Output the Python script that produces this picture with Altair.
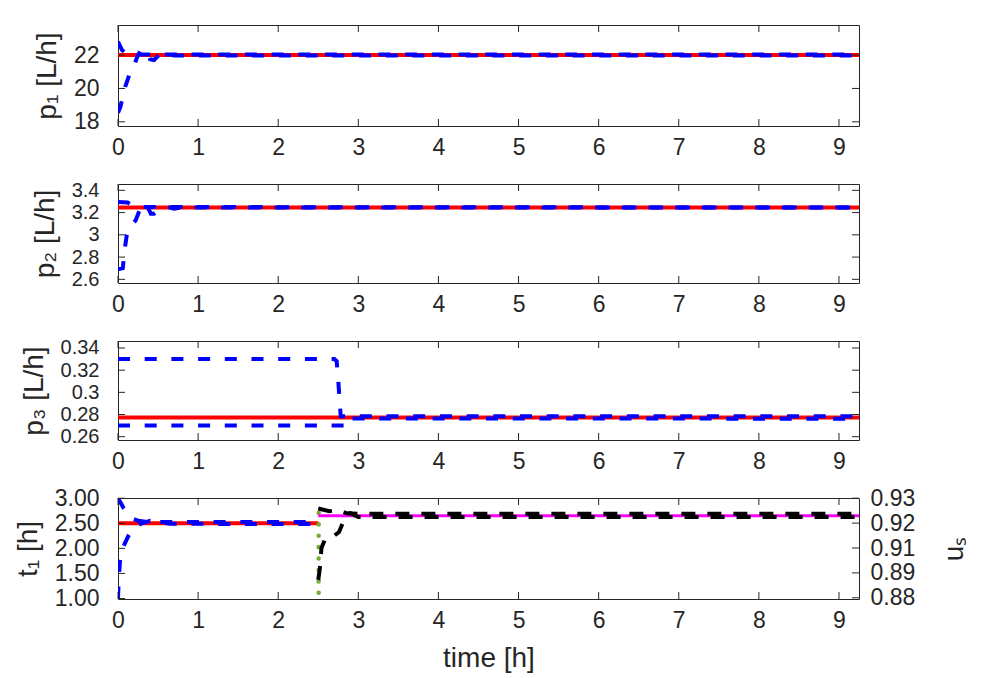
import altair as alt
import pandas as pd

# ---------------- data ----------------
X_MAX = 9.25
x_ticks = [0, 1, 2, 3, 4, 5, 6, 7, 8, 9]

# panel 1: p1
p1_domain = [17.75, 23.8]
p1_ticks = [18, 20, 22]
p1_red_t = [0, 9.3]
p1_red_v = [22.0, 22.0]
p1_hi_t = [0, 0.02, 0.05, 0.1, 0.2, 9.3]
p1_hi_v = [22.8, 22.6, 22.3, 22.1, 22.03, 22.03]
p1_lo_t = [0, 0.03, 0.06, 0.09, 0.14, 0.19, 0.24, 0.28, 0.36, 0.40, 0.45, 0.52, 0.6, 0.7, 9.3]
p1_lo_v = [18.55, 18.9, 19.5, 20.1, 20.8, 21.2, 21.9, 22.25, 22.25, 21.75, 21.7, 22.05, 22.15, 21.97, 21.97]

# panel 2: p2
p2_domain = [2.567, 3.457]
p2_ticks = [2.6, 2.8, 3.0, 3.2, 3.4]
p2_red_t = [0, 9.3]
p2_red_v = [3.245, 3.245]
p2_hi_t = [0, 0.12, 0.2, 0.3, 9.3]
p2_hi_v = [3.295, 3.29, 3.26, 3.25, 3.245]
p2_lo_t = [0, 0.06, 0.08, 0.11, 0.16, 0.22, 0.28, 0.33, 0.37, 0.41, 0.45, 0.55, 0.62, 0.7, 0.8, 9.3]
p2_lo_v = [2.69, 2.70, 2.85, 3.0, 3.08, 3.13, 3.24, 3.285, 3.25, 3.19, 3.19, 3.24, 3.25, 3.235, 3.245, 3.245]

# panel 3: p3
p3_domain = [0.257, 0.3463]
p3_ticks = [0.26, 0.28, 0.30, 0.32, 0.34]
p3_red_t = [0, 9.3]
p3_red_v = [0.2773, 0.2773]
p3_hi_t = [0, 2.70, 2.73, 2.75, 2.78, 9.3]
p3_hi_v = [0.33, 0.33, 0.328, 0.31, 0.2785, 0.2785]
p3_lo_t = [0, 2.82, 2.84, 9.3]
p3_lo_v = [0.27, 0.27, 0.2765, 0.2762]

# panel 4: t1 (left) and u_s (right)
p4_domain = [0.99, 3.005]
p4_ticks = [1.0, 1.5, 2.0, 2.5, 3.0]
p4_red_t = [0, 2.5]
p4_red_v = [2.5, 2.5]
p4_hi_t = [0, 0.03, 0.07, 0.12, 0.18, 0.25, 0.35, 0.5, 2.5]
p4_hi_v = [3.0, 2.92, 2.8, 2.68, 2.6, 2.55, 2.53, 2.525, 2.525]
p4_lo_t = [0, 0.01, 0.025, 0.05, 0.08, 0.13, 0.2, 0.3, 0.4, 0.5, 0.65, 2.5]
p4_lo_v = [1.0, 1.4, 1.75, 1.95, 2.08, 2.25, 2.42, 2.5, 2.55, 2.53, 2.49, 2.485]

u_domain = [0.8794, 0.9301]
u_ticks = [0.88, 0.8925, 0.905, 0.9175, 0.93]
u_mag_t = [2.5, 9.3]
u_mag_v = [0.9212, 0.9212]
u_hi_t = [2.5, 2.64, 2.75, 2.85, 3.0, 9.3]
u_hi_v = [0.9248, 0.9235, 0.924, 0.9225, 0.9222, 0.9222]
u_lo_t = [2.5, 2.52, 2.54, 2.58, 2.66, 2.76, 2.8, 2.85, 2.9, 3.0, 9.3]
u_lo_v = [0.889, 0.895, 0.905, 0.909, 0.910, 0.913, 0.917, 0.922, 0.9225, 0.9205, 0.9205]
u_green_t = [2.505, 2.505]
u_green_v = [0.8825, 0.928]

# ---------------- style ----------------
W = 741
FRAME = "#262626"
RED = "#FF0000"
BLUE = "#0000FF"
MAGENTA = "#FF00FF"
BLACK = "#000000"
GREEN = "#77AC30"
TICK = 7
BLUE_DASH = [12, 14.7]
BLACK_DASH = [14, 12]


def xdef(show_title):
    kw = dict(
        scale=alt.Scale(domain=[0, X_MAX], nice=False, zero=False),
        axis=alt.Axis(values=x_ticks, format="d", ticks=False, tickSize=0,
                      domain=False, grid=False, labelPadding=10, labelFlush=False,
                      labelOverlap=False, titlePadding=12),
    )
    if show_title:
        return alt.X("t:Q", title="time [h]", **kw)
    return alt.X("t:Q", title=None, **kw)


def ydef(domain, ticks, fmt, title, orient="left", lpad=19, tpad=12, angle=None,
         tbase=None, lsize=None):
    axkw = dict(values=ticks, format=fmt, ticks=False, tickSize=0, domain=False,
                grid=False, orient=orient, labelPadding=lpad, titlePadding=tpad,
                labelOverlap=False, labelFlush=False)
    if angle is not None:
        axkw["titleAngle"] = angle
    if tbase is not None:
        axkw["titleBaseline"] = tbase
    if lsize is not None:
        axkw["labelFontSize"] = lsize
    return alt.Y("v:Q", title=title,
                 scale=alt.Scale(domain=domain, nice=False, zero=False),
                 axis=alt.Axis(**axkw))


def line(t, v, X, Y, color, width, dash=None):
    df = pd.DataFrame({"t": t, "v": v, "i": list(range(len(t)))})
    kw = dict(color=color, strokeWidth=width, clip=True, strokeCap="butt")
    if dash is not None:
        kw["strokeDash"] = dash
    return alt.Chart(df).mark_line(**kw).encode(x=X, y=Y, order="i:Q")


def dotted(t, v, X, Y, color):
    df = pd.DataFrame({"t": t, "v": v, "i": list(range(len(t)))})
    return alt.Chart(df).mark_line(color=color, strokeWidth=4.5, strokeCap="round",
                                   strokeDash=[0.1, 11.3], clip=True).encode(
        x=X, y=Y, order="i:Q")


def xtick_layers(X, H):
    df = pd.DataFrame({"t": x_ticks})
    top = alt.Chart(df).mark_rule(color=FRAME, strokeWidth=1).encode(
        x=X, y=alt.value(0), y2=alt.value(TICK))
    bot = alt.Chart(df).mark_rule(color=FRAME, strokeWidth=1).encode(
        x=X, y=alt.value(H - TICK), y2=alt.value(H))
    return [top, bot]


def ytick_layers(Y, ticks, left=True, right=True):
    df = pd.DataFrame({"v": ticks})
    out = []
    if left:
        out.append(alt.Chart(df).mark_rule(color=FRAME, strokeWidth=1).encode(
            y=Y, x=alt.value(0), x2=alt.value(TICK)))
    if right:
        out.append(alt.Chart(df).mark_rule(color=FRAME, strokeWidth=1).encode(
            y=Y, x=alt.value(W - TICK), x2=alt.value(W)))
    return out


def simple_panel(H, dom, ticks, fmt, title, red, hi, lo, lsize=None):
    X = xdef(False)
    Y = ydef(dom, ticks, fmt, title, lsize=lsize)
    layers = [
        line(red[0], red[1], X, Y, RED, 4),
        line(lo[0], lo[1], X, Y, BLUE, 4, BLUE_DASH),
        line(hi[0], hi[1], X, Y, BLUE, 4, BLUE_DASH),
    ] + xtick_layers(X, H) + ytick_layers(Y, ticks)
    return alt.layer(*layers).properties(width=W, height=H)


panel1 = simple_panel(101, p1_domain, p1_ticks, "d", "p₁ [L/h]",
                      (p1_red_t, p1_red_v), (p1_hi_t, p1_hi_v), (p1_lo_t, p1_lo_v))
panel2 = simple_panel(99, p2_domain, p2_ticks, ".1~f", "p₂ [L/h]",
                      (p2_red_t, p2_red_v), (p2_hi_t, p2_hi_v), (p2_lo_t, p2_lo_v),
                      lsize=20)
panel3 = simple_panel(99, p3_domain, p3_ticks, ".2~f", "p₃ [L/h]",
                      (p3_red_t, p3_red_v), (p3_hi_t, p3_hi_v), (p3_lo_t, p3_lo_v),
                      lsize=20)

# panel 4
H4 = 101
X4 = xdef(True)
YL = ydef(p4_domain, p4_ticks, ".2f", "t₁ [h]")
YR = ydef(u_domain, u_ticks, ".2f", "uₛ", orient="right", lpad=11, tpad=26,
          angle=270, tbase="top")
left_group = alt.layer(
    line(p4_red_t, p4_red_v, X4, YL, RED, 4),
    line(p4_lo_t, p4_lo_v, X4, YL, BLUE, 4, BLUE_DASH),
    line(p4_hi_t, p4_hi_v, X4, YL, BLUE, 4, BLUE_DASH),
    *xtick_layers(X4, H4),
    *ytick_layers(YL, p4_ticks, left=True, right=False),
)
right_group = alt.layer(
    dotted(u_green_t, u_green_v, X4, YR, GREEN),
    line(u_mag_t, u_mag_v, X4, YR, MAGENTA, 3),
    line(u_lo_t, u_lo_v, X4, YR, BLACK, 4, BLACK_DASH),
    line(u_hi_t, u_hi_v, X4, YR, BLACK, 4, BLACK_DASH),
    *ytick_layers(YR, u_ticks, left=False, right=True),
)
panel4 = alt.layer(left_group, right_group).resolve_scale(y="independent").properties(
    width=W, height=H4)

chart = alt.vconcat(panel1, panel2, panel3, panel4, spacing=58, bounds="flush").configure_view(
    stroke=FRAME, strokeWidth=1
).configure_axis(
    labelFont="Liberation Sans", labelFontSize=23, labelColor=FRAME,
    titleFont="Liberation Sans", titleFontSize=28, titleFontWeight="normal",
    titleColor=FRAME,
).properties(
    padding={"left": 13, "top": 24, "right": 5, "bottom": 5},
    background="white",
)

chart.save("out.html", embed_options={"renderer": "svg", "actions": False})
